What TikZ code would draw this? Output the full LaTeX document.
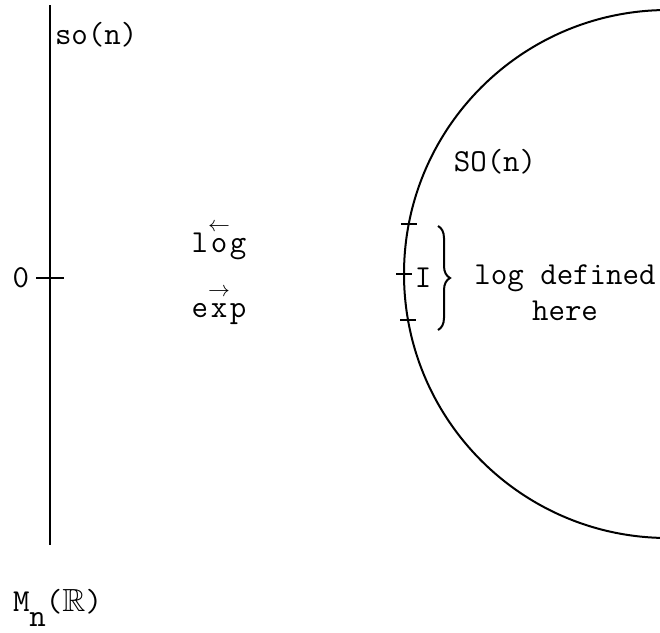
\documentclass[tikz,border=0pt]{standalone}
\usepackage{amsmath,amssymb}
\usepackage{fontspec}
\usetikzlibrary{decorations.pathreplacing}

\tikzset{lbl/.style={inner sep=1pt,font=\ttfamily\fontsize{16}{18}\selectfont}}
\newcommand{\arrowon}[2]{$\overset{\scriptstyle#1}{\text{#2}}$}

\begin{document}
\begin{tikzpicture}[x=0.5pt,y=-0.5pt,line width=1pt]
\useasboundingbox (0,0) rectangle (660,633);
\clip (0,0) rectangle (660,633);
% the space of matrices
\draw (50,5) -- (50,545);
\draw (36,278) -- (64,278);
\node[lbl,anchor=east] (zero) at (32,278) {0};
\node[lbl,anchor=west] (son) at (52,35) {so(n)};
\node[lbl,anchor=west] (mn) at (10,608) {M\raisebox{-1.1ex}{n}($\mathbb{R}$)};
% the maps
\node[lbl] (log) at (219,240) {l\arrowon{\leftarrow}{o}g};
\node[lbl] (exp) at (219,305) {e\arrowon{\rightarrow}{x}p};
% the group
\coordinate (c) at (668,274);
\draw (c) circle[radius=264];
\node[lbl] (SOn) at (495,162) {SO(n)};
\draw ([shift={(170:264)}]c) ++(-8,0) -- ++(16,0);
\draw ([shift={(180:264)}]c) ++(-8,0) -- ++(16,0);
\draw ([shift={(191:264)}]c) ++(-8,0) -- ++(16,0);
\node[lbl] (id) at (423,278) {I};
\draw[decorate,decoration={brace,amplitude=6pt}] (438,226) -- (438,330);
\node[lbl,align=center,anchor=north] (note) at (565,262) {log defined\\here};
\end{tikzpicture}
\end{document}
